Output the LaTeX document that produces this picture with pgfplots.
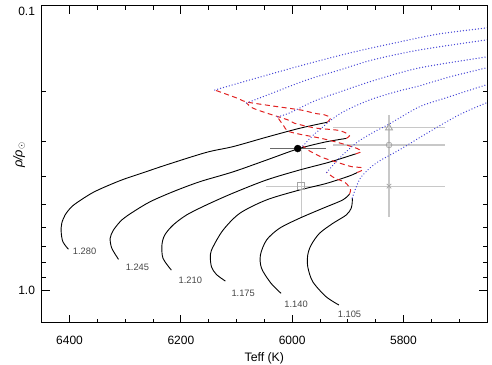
\documentclass[border=0pt]{standalone}
\usepackage{fontspec}
\setmainfont{Liberation Sans}
\usepackage{pgfplots}
\pgfplotsset{compat=1.18}

\definecolor{trackred}{RGB}{225,35,35}
\definecolor{trackblue}{RGB}{70,70,215}
\definecolor{errgray}{RGB}{200,200,200}
\definecolor{markgray}{RGB}{165,165,165}
\definecolor{bargray}{RGB}{105,105,105}
\definecolor{labgray}{RGB}{70,70,70}

\begin{document}
\begin{tikzpicture}
\useasboundingbox (-41.7pt,-41.3pt) rectangle (450.3pt,322.7pt);
\begin{axis}[
  scale only axis, width=445.3pt, height=317pt,
  x dir=reverse, y dir=reverse, ymode=log,
  xmin=5650, xmax=6450, ymin=0.1, ymax=1.303,
  xtick={5800,6000,6200,6400},
  minor xtick={5700,5750,5850,5900,5950,6050,6100,6150,6250,6300,6350},
  ytick={0.1,1},
  yticklabels={{\raisebox{-6pt}[\height][0pt]{0.1}},{1.0}},
  minor ytick={0.2,0.3,0.4,0.5,0.6,0.7,0.8,0.9},
  /pgf/number format/.cd, 1000 sep={}, assume math mode=true, /pgfplots/.cd,
  tick pos=both, tick align=inside,
  major tick length=8pt, minor tick length=4pt,
  axis line style={line width=0.9pt},
  every tick/.style={black, line width=0.8pt},
  xticklabel style={font=\fontsize{12}{12}\selectfont, anchor=center, yshift=-18pt},
  yticklabel style={font=\fontsize{12}{12}\selectfont, anchor=east, inner sep=0pt, xshift=-6.5pt},
  xlabel={Teff (K)},
  xlabel style={font=\fontsize{12.3}{12}\selectfont, at={(axis description cs:0.5,-0.1136)}, anchor=center},
  ylabel={\textit{ρ/ρ}\textsubscript{$\odot$}},
  ylabel style={font=\fontsize{12.8}{12}\selectfont, at={(axis description cs:-0.051,0.529)}, anchor=center},
  error bars/error mark=none,
]

% observational estimates (gray)
\addplot[only marks, mark=square, mark size=3.3pt, mark options={markgray, line width=0.8pt},
  error bars/.cd, x dir=both, x explicit, y dir=both, y explicit,
  error bar style={errgray, line width=1.1pt}]
  coordinates {(5984,0.431) += (63,0.121) -= (63,0.109)};
\addplot[only marks, mark=triangle, mark size=4pt, mark options={markgray, line width=0.8pt},
  error bars/.cd, x dir=both, x explicit, y dir=both, y explicit,
  error bar style={errgray, line width=1.1pt}]
  coordinates {(5826,0.269) += (100,0.018) -= (100,0.027)};
\addplot[only marks, mark=o, mark size=2.8pt, mark options={markgray, line width=0.8pt},
  error bars/.cd, x dir=both, x explicit, y dir=both, y explicit,
  error bar style={errgray, line width=1.1pt}]
  coordinates {(5826,0.309) += (100,0.036) -= (100,0.021)};
\addplot[only marks, mark=x, mark size=3.2pt, mark options={markgray, line width=0.8pt},
  error bars/.cd, x dir=both, x explicit, y dir=both, y explicit,
  error bar style={errgray, line width=1.1pt}]
  coordinates {(5826,0.431) += (100,0.121) -= (100,0.086)};

% track segments: main sequence, hook, post-main sequence
\pgfplotsset{ms/.style={black, line width=0.9pt, smooth, tension=0.5},
  hook/.style={trackred, line width=1pt, dash pattern=on 5pt off 3.5pt, smooth, tension=0.45},
  post/.style={trackblue, line width=1.4pt, line cap=round, dash pattern=on 0.01pt off 3pt, smooth, tension=0.5}}

% M = 1.280
\addplot[ms] coordinates {(6402,0.719) (6412,0.676) (6415,0.624) (6414,0.583) (6408,0.545) (6396,0.509) (6378,0.480) (6357,0.453) (6333,0.431) (6303,0.408) (6268,0.387) (6226,0.363) (6154,0.328) (6106,0.313) (6046,0.290) (5987,0.270) (5937,0.257)};
\addplot[hook] coordinates {(5937,0.257) (5931,0.248) (5942,0.242) (5960,0.239) (5983,0.233) (6037,0.225) (6082,0.218) (6100,0.211) (6139,0.198)};
\addplot[post] coordinates {(6139,0.198) (6076,0.1825) (5987,0.163) (5897,0.1467) (5808,0.1342) (5736,0.1257) (5652,0.1198) (5640,0.1190)};

% M = 1.245
\addplot[ms] coordinates {(6312,0.780) (6324,0.713) (6327,0.658) (6321,0.615) (6306,0.567) (6285,0.530) (6255,0.489) (6214,0.451) (6166,0.416) (6106,0.384) (6046,0.349) (5990,0.319) (5942,0.302) (5903,0.293)};
\addplot[hook] coordinates {(5903,0.293) (5897,0.287) (5904,0.280) (5919,0.274) (5960,0.269) (5996,0.259) (6008,0.252) (6046,0.2385) (6071,0.229) (6082,0.220)};
\addplot[post] coordinates {(6082,0.220) (6040,0.2045) (5974,0.1825) (5915,0.1684) (5856,0.1552) (5772,0.1432) (5652,0.1320) (5640,0.1310)};

% M = 1.210
\addplot[ms] coordinates {(6217,0.851) (6232,0.774) (6234,0.695) (6229,0.641) (6214,0.591) (6190,0.545) (6154,0.502) (6106,0.456) (6046,0.410) (5987,0.3785) (5933,0.355) (5886,0.332)};
\addplot[hook] coordinates {(5886,0.332) (5876,0.326) (5883,0.318) (5912,0.305) (5947,0.293) (5987,0.283) (6008,0.276) (6015,0.265) (6023,0.252) (6026,0.246)};
\addplot[post] coordinates {(6026,0.246) (6005,0.2385) (5960,0.2164) (5915,0.2012) (5856,0.184) (5772,0.1656) (5652,0.1515) (5640,0.1502)};

% M = 1.175
\addplot[ms] coordinates {(6120,0.930) (6136,0.882) (6145,0.828) (6147,0.753) (6142,0.704) (6124,0.615) (6094,0.537) (6046,0.482) (5987,0.445) (5939,0.422) (5897,0.397) (5883,0.386)};
\addplot[hook] coordinates {(5883,0.386) (5874,0.3785) (5876,0.371) (5894,0.368) (5924,0.353) (5947,0.341) (5969,0.324) (5981,0.3115)};
\addplot[post] coordinates {(5981,0.3115) (5960,0.283) (5915,0.2404) (5861,0.2146) (5808,0.1995) (5772,0.1916) (5718,0.1782) (5652,0.1656) (5640,0.1635)};

% M = 1.140
\addplot[ms] coordinates {(6020,1.027) (6038,0.947) (6055,0.839) (6057,0.753) (6046,0.667) (6023,0.607) (5987,0.5595) (5945,0.516) (5909,0.482) (5897,0.4595)};
\addplot[hook] coordinates {(5897,0.4595) (5895,0.445) (5899,0.4306) (5906,0.417) (5924,0.4036) (5938,0.386)};
\addplot[post] coordinates {(5938,0.386) (5915,0.3434) (5885,0.304) (5853,0.278) (5826,0.261) (5772,0.227) (5724,0.211) (5652,0.190) (5640,0.187)};

% M = 1.105
\addplot[ms] coordinates {(5916,1.129) (5939,1.056) (5963,0.935) (5972,0.828) (5972,0.753) (5966,0.695) (5951,0.632) (5927,0.583) (5903,0.545) (5894,0.516) (5892,0.489) (5892,0.4747)};
\addplot[post] coordinates {(5892,0.4747) (5887,0.445) (5876,0.400) (5849,0.3575) (5808,0.322) (5754,0.278) (5700,0.242) (5652,0.220) (5640,0.2153)};

% mass labels
\begin{scope}[every node/.style={font=\fontsize{9.3}{9.3}\selectfont, text=labgray, inner sep=0pt}]
\node at (axis cs:6373,0.733) {1.280};
\node at (axis cs:6278,0.833) {1.245};
\node at (axis cs:6183,0.926) {1.210};
\node at (axis cs:6088,1.027) {1.175};
\node at (axis cs:5993,1.126) {1.140};
\node at (axis cs:5897,1.221) {1.105};
\end{scope}

% measured value
\addplot[only marks, mark=*, mark size=3.5pt, black,
  error bars/.cd, x dir=both, x explicit,
  error bar style={bargray, line width=1.4pt}]
  coordinates {(5990,0.318) +- (50,0)};
\end{axis}
\end{tikzpicture}
\end{document}
